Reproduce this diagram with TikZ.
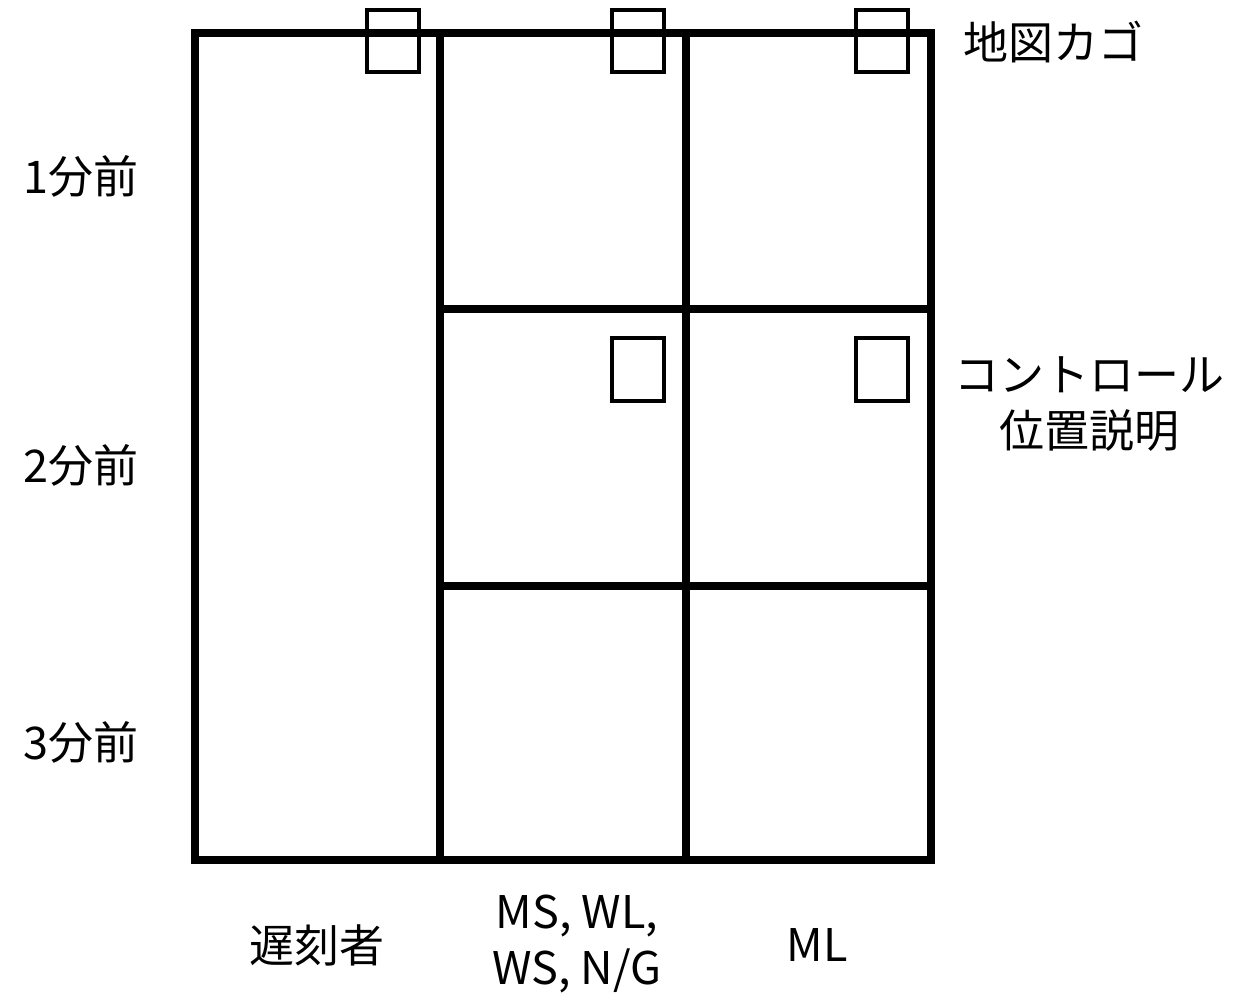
\documentclass[tikz,border=0pt]{standalone}
\usepackage{fontspec}
\setmainfont{Noto Sans CJK JP}
\begin{document}
\begin{tikzpicture}[x=1pt, y=-1pt,
    frame/.style={line width=7.5pt},
    tag/.style={line width=4pt},
    lbl/.style={font=\fontsize{45}{56}\selectfont, inner sep=0pt, align=center}]
    \useasboundingbox (0, 0) rectangle (1258, 997);

    \draw[frame] (195, 33) rectangle (931, 860);
    \draw[frame] (440, 33) -- (440, 860);
    \draw[frame] (686, 33) -- (686, 860);
    \draw[frame] (440, 309) -- (931, 309);
    \draw[frame] (440, 586) -- (931, 586);

    \foreach \x in {393, 638, 882}
      \draw[tag] (\x-26, 10) rectangle (\x+26, 72);
    \foreach \x in {638, 882}
      \draw[tag] (\x-26, 338) rectangle (\x+26, 401);

    \node[lbl] (min1) at (81, 176) {1分前};
    \node[lbl] (min2) at (81, 465) {2分前};
    \node[lbl] (min3) at (81, 742) {3分前};

    \node[lbl] (mapbox) at (1053, 42) {地図カゴ};
    \node[lbl] (desc) at (1089, 404) {コントロール\\位置説明};

    \node[lbl] (late) at (317, 945) {遅刻者};
    \node[lbl] (mid) at (577, 944) {MS, WL,\\WS, N/G};
    \node[lbl] (ml) at (817, 945) {ML};
  \end{tikzpicture}
\end{document}
